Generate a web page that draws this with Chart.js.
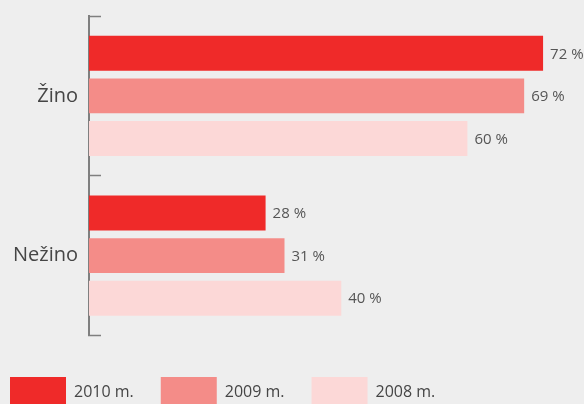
<!DOCTYPE html>
<html>
<head>
<meta charset="utf-8">
<script src="https://cdn.jsdelivr.net/npm/chart.js@4/dist/chart.umd.min.js"></script>
<style>
  html, body { margin: 0; padding: 0; background: #eeeeee; overflow: hidden; }
  #wrap { position: relative; width: 584px; height: 417px; }
</style>
</head>
<body>
<div id="wrap"><canvas id="chart"></canvas></div>
<script>
// chart data
const categories = ['Žino', 'Nežino'];
const seriesNames = ['2010 m.', '2009 m.', '2008 m.'];
const values2010 = [72, 28];
const values2009 = [69, 31];
const values2008 = [60, 40];
const seriesColors = ['#ef2a29', '#f48c88', '#fcd8d7'];

const FONT = '"Open Sans", "DejaVu Sans", sans-serif';

// draws "NN %" after the end of each bar
const valueLabels = {
    id: 'valueLabels',
    afterDatasetsDraw(chart) {
        const ctx = chart.ctx;
        ctx.save();
        ctx.font = '15px ' + FONT;
        ctx.fillStyle = '#555555';
        ctx.textAlign = 'left';
        ctx.textBaseline = 'middle';
        chart.data.datasets.forEach((ds, i) => {
            const meta = chart.getDatasetMeta(i);
            meta.data.forEach((bar, j) => {
                ctx.fillText(ds.data[j] + ' %', bar.x + 7, bar.y + 1);
            });
        });
        ctx.restore();
    }
};

const seriesValues = [values2010, values2009, values2008];

new Chart(document.getElementById('chart'), {
    type: 'bar',
    data: {
        labels: categories,
        datasets: seriesNames.map((name, i) => ({
            label: name,
            data: seriesValues[i],
            backgroundColor: seriesColors[i],
            borderWidth: 0,
            barPercentage: 0.82,
            categoryPercentage: 0.8
        }))
    },
    options: {
        indexAxis: 'y',
        responsive: true,
        maintainAspectRatio: false,
        animation: false,
        layout: {
            padding: { left: -17, right: 22, top: 16, bottom: 0 }
        },
        scales: {
            x: {
                min: 0,
                max: 75,
                grid: { display: false },
                border: { display: false },
                ticks: { display: false },
                afterFit(scale) { scale.height = 14.5; }
            },
            y: {
                grid: {
                    display: true,
                    drawOnChartArea: false,
                    drawTicks: true,
                    tickLength: -12,
                    color: '#7f7f7f',
                    tickWidth: 1.5,
                    offset: true
                },
                border: { display: true, color: '#7f7f7f', width: 2 },
                ticks: {
                    color: '#454545',
                    padding: 23,
                    font: { family: FONT, size: 20 }
                },
                afterFit(scale) {
                    scale.width = 106;
                    scale.paddingTop = 0;
                    scale.paddingBottom = 0;
                }
            }
        },
        plugins: {
            tooltip: { enabled: false },
            legend: {
                position: 'bottom',
                align: 'start',
                labels: {
                    boxWidth: 56,
                    boxHeight: 30,
                    padding: 27,
                    color: '#454545',
                    font: { family: FONT, size: 16 }
                }
            }
        }
    },
    plugins: [valueLabels]
});
</script>
</body>
</html>
